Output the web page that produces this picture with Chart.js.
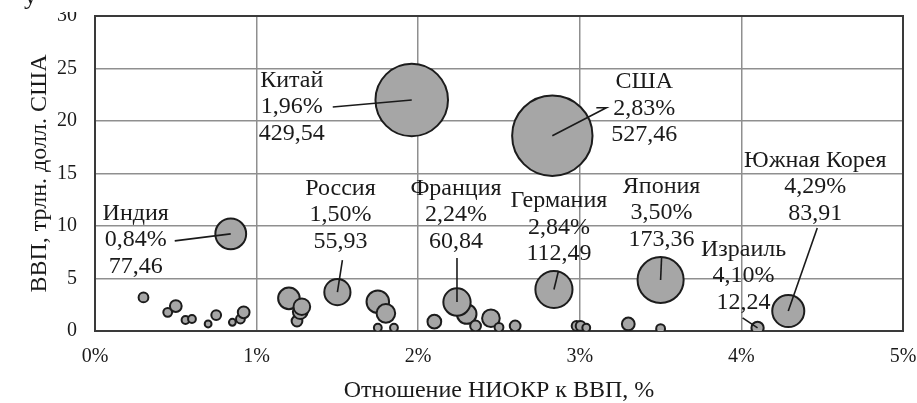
<!DOCTYPE html>
<html>
<head>
<meta charset="utf-8">
<script src="https://cdn.jsdelivr.net/npm/chart.js@4.4.1/dist/chart.umd.min.js"></script>
<style>
html,body{margin:0;padding:0;background:#fff;}
#wrap{width:917px;height:403px;position:relative;}
</style>
</head>
<body>
<div id="wrap"><canvas id="c" width="917" height="403"></canvas></div>
<script>
// ---- data ----
const labeledNames = ['Китай','США','Индия','Россия','Франция','Германия','Япония','Южная Корея','Израиль'];
const labeledRD    = [1.96, 2.83, 0.84, 1.50, 2.24, 2.84, 3.50, 4.29, 4.10];   // НИОКР к ВВП, %
const labeledGDP   = [22.0, 18.6, 9.25, 3.7, 2.76, 3.95, 4.86, 1.9, 0.3];      // ВВП, трлн. долл.
const labeledSpend = [429.54, 527.46, 77.46, 55.93, 60.84, 112.49, 173.36, 83.91, 12.24];

const otherRD    = [0.30,0.45,0.50,0.56,0.60,0.70,0.75,0.85,0.90,0.92,1.20,1.25,1.27,1.28,1.75,1.75,1.80,1.85,2.10,2.30,2.355,2.45,2.50,2.60,2.98,3.005,3.04,3.30,3.50];
const otherGDP   = [3.2,1.78,2.38,1.05,1.14,0.67,1.52,0.83,1.14,1.78,3.11,0.95,1.84,2.31,2.79,0.31,1.68,0.31,0.89,1.62,0.48,1.21,0.35,0.48,0.48,0.48,0.31,0.67,0.22];
const otherSpend = [7.8,6.4,11.3,5.0,5.0,3.8,7.8,3.8,6.4,11.3,38,9.5,17.7,22.7,41.5,5.0,28.3,5.0,15.4,31.4,9.5,25.4,6.4,9.5,7.8,7.8,5.0,13.3,6.4];

const xTicks = [0,1,2,3,4,5];
const yTicks = [0,5,10,15,20,25,30];

// ---- presentation ----
const SERIF = '"Liberation Serif", "DejaVu Serif", serif';
const BUBBLE_K = 1.75;
const rOf = v => BUBBLE_K * Math.sqrt(v);
const fmt = v => v.toFixed(2).replace('.', ',');

// label placement offsets (px, relative to bubble centre): block centre and leader path
const labelPlace = [
  {dx:-120, dy:7,   lead:[[-79,7]]},
  {dx:92,   dy:-27, lead:[[54,-28],[44,-28]]},
  {dx:-95,  dy:6,   lead:[[-56,7]]},
  {dx:3,    dy:-77, lead:[[5,-32]]},
  {dx:-1,   dy:-87, lead:[[0,-44]]},
  {dx:5,    dy:-62, lead:[[4.5,-18.5]]},
  {dx:1,    dy:-67, lead:[[1,-23]]},
  {dx:27,   dy:-124,lead:[[29,-83]]},
  {dx:-14,  dy:-52, lead:[[-15,-10]]}
];

const labeledPts = labeledRD.map((x,i)=>({x:x, y:labeledGDP[i], r:rOf(labeledSpend[i])}));
const otherPts = otherRD.map((x,i)=>({x:x, y:otherGDP[i], r:rOf(otherSpend[i])}));

const frame = {
  id:'frame',
  beforeDatasetsDraw(chart){
    const {ctx, chartArea:a} = chart;
    ctx.save();
    ctx.strokeStyle = '#3a3a3a';
    ctx.lineWidth = 2;
    ctx.strokeRect(a.left, a.top, a.right-a.left, a.bottom-a.top);
    ctx.restore();
  }
};

const labels = {
  id:'labels',
  afterDatasetsDraw(chart){
    const ctx = chart.ctx;
    const meta = chart.getDatasetMeta(0);
    ctx.save();
    ctx.strokeStyle = '#1a1a1a';
    ctx.lineWidth = 1.6;
    ctx.fillStyle = '#1a1a1a';
    ctx.font = '24px ' + SERIF;
    ctx.textAlign = 'center';
    ctx.textBaseline = 'middle';
    meta.data.forEach((el,i)=>{
      const p = labelPlace[i];
      const cx = el.x, cy = el.y;
      ctx.beginPath();
      ctx.moveTo(cx, cy);
      p.lead.forEach(([lx,ly])=>ctx.lineTo(cx+lx, cy+ly));
      ctx.stroke();
      const lines = [labeledNames[i], fmt(labeledRD[i]) + '%', fmt(labeledSpend[i])];
      const lh = 26.5;
      lines.forEach((t,k)=>{
        ctx.fillText(t, cx+p.dx, cy+p.dy+(k-1)*lh);
      });
    });
    ctx.restore();
  },
  afterDraw(chart){
    const ctx = chart.ctx;
    ctx.save();
    ctx.fillStyle = '#fff';
    ctx.fillRect(0,0,chart.width,12);
    ctx.fillStyle = '#1a1a1a';
    ctx.font = '26px ' + SERIF;
    ctx.textAlign = 'left';
    ctx.textBaseline = 'alphabetic';
    ctx.fillText('у', 24, 4);
    ctx.restore();
  }
};

new Chart(document.getElementById('c'), {
  type:'bubble',
  data:{
    datasets:[
      {data:labeledPts, backgroundColor:'#a6a6a6', borderColor:'#1c1c1c', borderWidth:2},
      {data:otherPts, backgroundColor:'#a6a6a6', borderColor:'#1c1c1c', borderWidth:2}
    ]
  },
  options:{
    responsive:false,
    animation:false,
    events:[],
    layout:{autoPadding:false, padding:{left:0, right:14, top:16, bottom:0}},
    plugins:{legend:{display:false}, tooltip:{enabled:false}},
    scales:{
      x:{
        type:'linear', min:xTicks[0], max:xTicks[xTicks.length-1],
        afterBuildTicks(s){ s.ticks = xTicks.map(v=>({value:v})); },
        afterFit(s){ s.height = 72; s.paddingLeft = 0; s.paddingRight = 0; },
        grid:{color:'#8f8f8f', lineWidth:1.5, drawTicks:false},
        border:{display:false},
        ticks:{padding:14, color:'#1a1a1a', font:{family:SERIF, size:20}, callback:v=>v+'%'},
        title:{display:true, text:'Отношение НИОКР к ВВП, %', color:'#1a1a1a', font:{family:SERIF, size:24}, padding:{top:0,bottom:-2}}
      },
      y:{
        type:'linear', min:yTicks[0], max:yTicks[yTicks.length-1],
        afterBuildTicks(s){ s.ticks = yTicks.map(v=>({value:v})); },
        afterFit(s){ s.width = 95; s.paddingTop = 0; s.paddingBottom = 0; },
        grid:{color:'#8f8f8f', lineWidth:1.5, drawTicks:false},
        border:{display:false},
        ticks:{padding:18, color:'#1a1a1a', font:{family:SERIF, size:20}},
        title:{display:true, text:'ВВП, трлн. долл. США', color:'#1a1a1a', font:{family:SERIF, size:24}, padding:{top:25,bottom:0}}
      }
    }
  },
  plugins:[frame, labels]
});
</script>
</body>
</html>
